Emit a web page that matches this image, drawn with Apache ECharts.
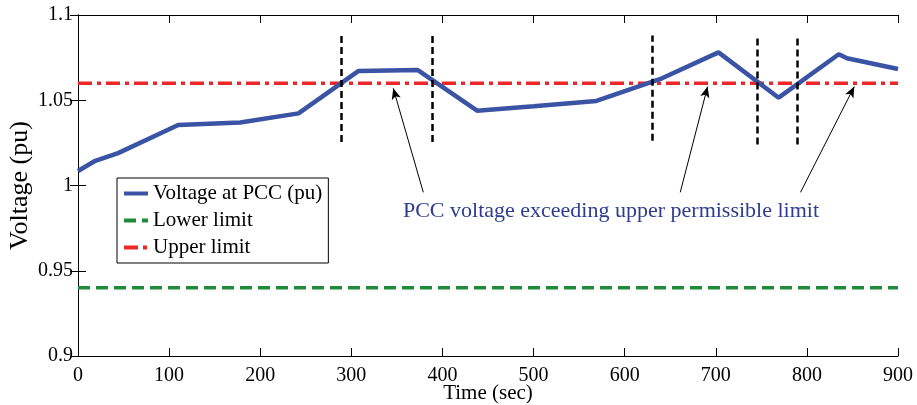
<!DOCTYPE html>
<html>
<head>
<meta charset="utf-8">
<script src="https://cdn.jsdelivr.net/npm/echarts@6/dist/echarts.min.js"></script>
<style>html,body{margin:0;padding:0;background:#fff}#chart{width:917px;height:405px}</style>
</head>
<body>
<div id="chart"></div>
<script>
const time = [0, 19, 44, 110, 178, 242, 308, 373, 438, 500, 569, 641, 703, 769, 835, 844, 900];
const voltage = [1.0085, 1.0145, 1.019, 1.0355, 1.037, 1.0423, 1.0672, 1.0677, 1.0439, 1.0465, 1.0496, 1.0629, 1.0781, 1.0515, 1.077, 1.0746, 1.0683];
const limitTime = [0, 900];
const lowerLimit = [0.94, 0.94];
const upperLimit = [1.06, 1.06];
const markerTimes = [289, 389, 630, 745, 789];
const markerTop = [1.090, 1.090, 1.088, 1.088, 1.088];
const markerBottom = [1.0255, 1.0255, 1.0262, 1.024, 1.024];
const arrowTails = [[379, 0.996], [661, 0.996], [793, 0.996]];
const arrowHeads = [[346, 1.057], [691, 1.058], [852, 1.058]];
const annotationText = 'PCC voltage exceeding upper permissible limit';
const annotationPos = [585, 0.985];
const xTicks = {min: 0, max: 900, interval: 100};
const yTicks = {min: 0.9, max: 1.1, interval: 0.05};

const FONT = '"Liberation Serif", "Times New Roman", serif';
const chart = echarts.init(document.getElementById('chart'), null, {renderer: 'canvas'});

const pair = (xs, ys) => xs.map((x, i) => [x, ys[i]]);

const axisCommon = {
  axisLine: {show: true, lineStyle: {color: '#000', width: 1}},
  axisTick: {show: true, inside: true, length: 8, lineStyle: {color: '#000', width: 1}},
  splitLine: {show: false}
};

const option = {
  animation: false,
  backgroundColor: '#fff',
  grid: {left: 78, right: 19, top: 15, bottom: 49, containLabel: false, outerBoundsMode: 'none'},
  legend: {
    orient: 'vertical',
    left: 117, top: 178,
    data: ['Voltage at PCC (pu)', 'Lower limit', 'Upper limit'],
    backgroundColor: '#fff',
    borderColor: '#000', borderWidth: 1, borderRadius: 0,
    padding: [5, 6, 5, 5],
    itemGap: 6,
    itemWidth: 24, itemHeight: 14,
    itemStyle: {opacity: 0},
    lineStyle: {width: 4},
    textStyle: {fontFamily: FONT, fontSize: 21, color: '#000', lineHeight: 21}
  },
  xAxis: [
    Object.assign({
      type: 'value', min: xTicks.min, max: xTicks.max, interval: xTicks.interval,
      position: 'bottom',
      name: 'Time (sec)', nameLocation: 'middle', nameGap: 27, nameMoveOverlap: false,
      nameTextStyle: {fontFamily: FONT, fontSize: 21, color: '#000'},
      axisLabel: {fontFamily: FONT, fontSize: 20, color: '#000', margin: 10}
    }, axisCommon),
    Object.assign({
      type: 'value', min: xTicks.min, max: xTicks.max, interval: xTicks.interval,
      position: 'top', axisLabel: {show: false}
    }, axisCommon)
  ],
  yAxis: [
    Object.assign({
      type: 'value', min: yTicks.min, max: yTicks.max, interval: yTicks.interval,
      position: 'left',
      name: 'Voltage (pu)', nameLocation: 'middle', nameGap: 45, nameRotate: 90, nameMoveOverlap: false,
      nameTextStyle: {fontFamily: FONT, fontSize: 26, color: '#000'},
      axisLabel: {fontFamily: FONT, fontSize: 20, color: '#000', margin: 5}
    }, axisCommon),
    Object.assign({
      type: 'value', min: yTicks.min, max: yTicks.max, interval: yTicks.interval,
      position: 'right', axisLabel: {show: false}
    }, axisCommon)
  ],
  series: [
    {
      name: 'Upper limit', type: 'line', data: pair(limitTime, upperLimit),
      symbol: 'none', z: 2,
      lineStyle: {color: '#ec2727', width: 3.5, type: [14, 5, 4, 5]},
      itemStyle: {color: '#ec2727'}
    },
    {
      name: 'Lower limit', type: 'line', data: pair(limitTime, lowerLimit),
      symbol: 'none', z: 2,
      lineStyle: {color: '#1f8a3b', width: 3.5, type: [12, 6]},
      itemStyle: {color: '#1f8a3b'}
    },
    {
      name: 'Voltage at PCC (pu)', type: 'line', data: pair(time, voltage),
      symbol: 'none', z: 3,
      lineStyle: {color: '#3a53a4', width: 4.5},
      itemStyle: {color: '#3a53a4'}
    },
    {
      name: 'annotations', type: 'line', data: [], symbol: 'none', z: 4,
      markLine: {
        silent: true, animation: false,
        data: markerTimes.map((t, i) => [
          {coord: [t, markerBottom[i]], symbol: 'none', lineStyle: {color: '#000', width: 2.5, type: [7, 4]}},
          {coord: [t, markerTop[i]], symbol: 'none'}
        ]).concat(arrowTails.map((tail, i) => [
          {coord: tail, symbol: 'none', lineStyle: {color: '#000', width: 1, type: 'solid'}},
          {coord: arrowHeads[i], symbol: 'arrow', symbolSize: [7, 11]}
        ])),
        label: {show: false}
      },
      markPoint: {
        silent: true, animation: false,
        data: [{coord: annotationPos, symbol: 'circle', symbolSize: 0,
          label: {show: true, position: 'inside', formatter: annotationText,
            fontFamily: FONT, fontSize: 22, color: '#2e3d8f'}}]
      }
    }
  ]
};
chart.setOption(option);
</script>
</body>
</html>
